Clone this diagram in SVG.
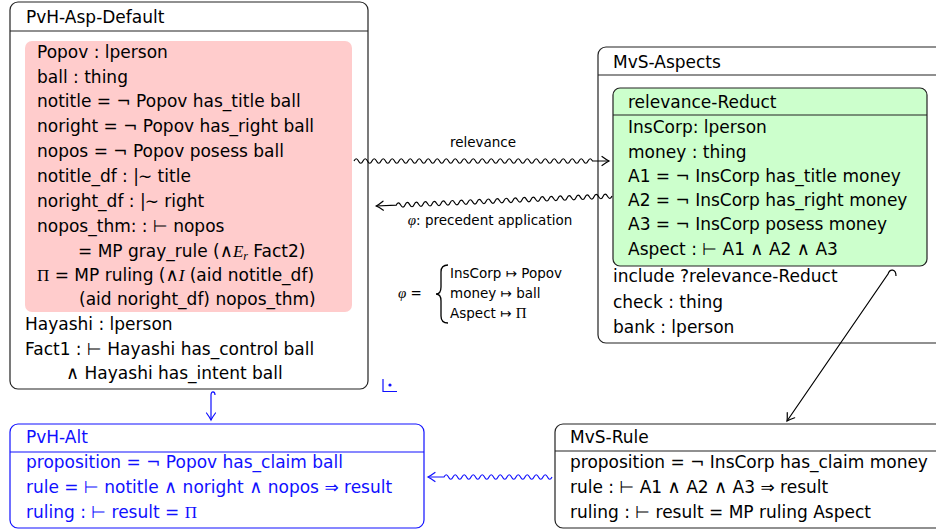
<svg xmlns="http://www.w3.org/2000/svg" width="936" height="529" viewBox="0 0 936 529">
<style>
.t{font-family:"DejaVu Sans",sans-serif;font-size:17px;fill:#000}
.bl{fill:#1010ff}
.m{font-family:"Liberation Serif",serif;font-style:italic}
.r{font-family:"Liberation Serif",serif}
.a{font-family:"Liberation Serif","DejaVu Serif",serif;font-size:18px}
.s{font-size:13.5px}
.box{fill:#fff;stroke:#222;stroke-width:1.2}
.sep{stroke:#222;stroke-width:1.2}
.w{fill:none;stroke:#000;stroke-width:1.2}
.wb{fill:none;stroke:#1010ff;stroke-width:1.2}
</style>
<defs>
<marker id="ah" viewBox="-8 -6 10 12" markerWidth="10" markerHeight="12" refX="0" refY="0" orient="auto" markerUnits="userSpaceOnUse" overflow="visible">
<path d="M-7 -4.5 Q-2.5 -1.2 0 0 Q-2.5 1.2 -7 4.5" fill="none" stroke="#000" stroke-width="1.2" stroke-linecap="round"/>
</marker>
<marker id="ahb" viewBox="-8 -6 10 12" markerWidth="10" markerHeight="12" refX="0" refY="0" orient="auto" markerUnits="userSpaceOnUse" overflow="visible">
<path d="M-7 -4.5 Q-2.5 -1.2 0 0 Q-2.5 1.2 -7 4.5" fill="none" stroke="#1010ff" stroke-width="1.2" stroke-linecap="round"/>
</marker>
</defs>

<g id="pvh-asp-default">
<rect class="box" x="10" y="2" width="358" height="387" rx="8"/>
<line class="sep" x1="10" y1="31" x2="368" y2="31"/>
<text class="t" x="26" y="23">PvH-Asp-Default</text>
<rect x="25" y="41" width="327" height="271" rx="7" fill="#ffcccc"/>
<text class="t" x="37" y="58">Popov : lperson</text>
<text class="t" x="37" y="83">ball : thing</text>
<text class="t" x="37" y="107">notitle = ¬ Popov has_title ball</text>
<text class="t" x="37" y="132">noright = ¬ Popov has_right ball</text>
<text class="t" x="37" y="157">nopos = ¬ Popov posess ball</text>
<text class="t" x="37" y="182">notitle_df : |<tspan dx="-1">∼</tspan> title</text>
<text class="t" x="37" y="207">noright_df : |<tspan dx="-1">∼</tspan> right</text>
<text class="t" x="37" y="232">nopos_thm: : ⊢ nopos</text>
<text class="t" x="78" y="257">= MP gray_rule (<tspan class="a">∧</tspan><tspan class="m">E</tspan><tspan class="m" font-size="12" dy="3">r</tspan><tspan dy="-3"> Fact2)</tspan></text>
<text class="t" x="37" y="281"><tspan class="r">Π</tspan> = MP ruling (<tspan class="a">∧</tspan><tspan class="m">I</tspan> (aid notitle_df)</text>
<text class="t" x="79" y="305">(aid noright_df) nopos_thm)</text>
<text class="t" x="25" y="330">Hayashi : lperson</text>
<text class="t" x="25" y="355">Fact1 : ⊢ Hayashi has_control ball</text>
<text class="t" x="66" y="379"><tspan class="a">∧</tspan> Hayashi has_intent ball</text>
</g>

<g id="mvs-aspects">
<rect class="box" x="598" y="47" width="350" height="296" rx="8"/>
<line class="sep" x1="598" y1="75" x2="936" y2="75"/>
<text class="t" x="613" y="68">MvS-Aspects</text>
<g id="relevance-reduct">
<rect x="613" y="88" width="314" height="178" rx="7" fill="#ccffcc" stroke="#222" stroke-width="1.2"/>
<line class="sep" x1="613" y1="115" x2="927" y2="115"/>
<text class="t" x="628" y="108">relevance-Reduct</text>
<text class="t" x="628" y="133">InsCorp: lperson</text>
<text class="t" x="628" y="158">money : thing</text>
<text class="t" x="628" y="182">A1 = ¬ InsCorp has_title money</text>
<text class="t" x="628" y="206">A2 = ¬ InsCorp has_right money</text>
<text class="t" x="628" y="230">A3 = ¬ InsCorp posess money</text>
<text class="t" x="628" y="255">Aspect : ⊢ A1 <tspan class="a">∧</tspan> A2 <tspan class="a">∧</tspan> A3</text>
</g>
<text class="t" x="613" y="282">include ?relevance-Reduct</text>
<text class="t" x="613" y="308">check : thing</text>
<text class="t" x="613" y="333">bank : lperson</text>
</g>

<g id="mvs-rule">
<rect class="box" x="555" y="424" width="393" height="104" rx="8"/>
<line class="sep" x1="555" y1="451" x2="936" y2="451"/>
<text class="t" x="570" y="443">MvS-Rule</text>
<text class="t" x="570" y="468">proposition = ¬ InsCorp has_claim money</text>
<text class="t" x="570" y="493">rule : ⊢ A1 <tspan class="a">∧</tspan> A2 <tspan class="a">∧</tspan> A3 ⇒ result</text>
<text class="t" x="570" y="518">ruling : ⊢ result = MP ruling Aspect</text>
</g>

<g id="pvh-alt">
<rect x="10" y="424" width="414" height="104" rx="8" fill="#fff" stroke="#1010ff" stroke-width="1.2"/>
<line x1="10" y1="452" x2="424" y2="452" stroke="#1010ff" stroke-width="1.2"/>
<text class="t bl" x="26" y="443">PvH-Alt</text>
<text class="t bl" x="26" y="468">proposition = ¬ Popov has_claim ball</text>
<text class="t bl" x="26" y="493">rule = ⊢ notitle <tspan class="a">∧</tspan> noright <tspan class="a">∧</tspan> nopos ⇒ result</text>
<text class="t bl" x="26" y="518">ruling : ⊢ result = <tspan class="r">Π</tspan></text>
</g>

<g id="connectors">
<path class="w" marker-end="url(#ah)" d="M354 161 q2.25 -4.5 4.5 0 t4.5 0 t4.5 0 t4.5 0 t4.5 0 t4.5 0 t4.5 0 t4.5 0 t4.5 0 t4.5 0 t4.5 0 t4.5 0 t4.5 0 t4.5 0 t4.5 0 t4.5 0 t4.5 0 t4.5 0 t4.5 0 t4.5 0 t4.5 0 t4.5 0 t4.5 0 t4.5 0 t4.5 0 t4.5 0 t4.5 0 t4.5 0 t4.5 0 t4.5 0 t4.5 0 t4.5 0 t4.5 0 t4.5 0 t4.5 0 t4.5 0 t4.5 0 t4.5 0 t4.5 0 t4.5 0 t4.5 0 t4.5 0 t4.5 0 t4.5 0 t4.5 0 t4.5 0 t4.5 0 t4.5 0 t4.5 0 t4.5 0 t4.5 0 t4.5 0 t4.5 0 L609 161"/>
<text class="t s" x="483" y="147" text-anchor="middle">relevance</text>
<g transform="translate(612,196) rotate(177.57)">
<path class="w" marker-end="url(#ah)" d="M0 0 q2.25 -4.5 4.5 0 t4.5 0 t4.5 0 t4.5 0 t4.5 0 t4.5 0 t4.5 0 t4.5 0 t4.5 0 t4.5 0 t4.5 0 t4.5 0 t4.5 0 t4.5 0 t4.5 0 t4.5 0 t4.5 0 t4.5 0 t4.5 0 t4.5 0 t4.5 0 t4.5 0 t4.5 0 t4.5 0 t4.5 0 t4.5 0 t4.5 0 t4.5 0 t4.5 0 t4.5 0 t4.5 0 t4.5 0 t4.5 0 t4.5 0 t4.5 0 t4.5 0 t4.5 0 t4.5 0 t4.5 0 t4.5 0 t4.5 0 t4.5 0 t4.5 0 t4.5 0 t4.5 0 t4.5 0 t4.5 0 t4.5 0 L236 0"/>
</g>
<text class="t s" x="490" y="225" text-anchor="middle"><tspan class="m" font-size="15">φ</tspan>: precedent application</text>
<g id="phi-map">
<text class="t s" x="398" y="298"><tspan class="m" font-size="15">φ</tspan> =</text>
<path d="M448 265 Q441 265 441 272 L441 287 Q441 294 436 294 Q441 294 441 301 L441 316 Q441 323 448 323" fill="none" stroke="#000" stroke-width="1.3"/>
<text class="t s" x="450" y="278">InsCorp ↦ Popov</text>
<text class="t s" x="450" y="298">money ↦ ball</text>
<text class="t s" x="450" y="318">Aspect ↦ <tspan class="r" font-size="15">Π</tspan></text>
</g>
<path class="w" marker-end="url(#ah)" d="M896 276 C896 269 890 268 888 274 L787 421"/>
<path class="wb" marker-end="url(#ahb)" d="M215 395 C215 391 211 390.5 211 395 L211 420"/>
<g transform="translate(552,477) rotate(180)">
<path class="wb" marker-end="url(#ahb)" d="M0 0 q2.25 -4.5 4.5 0 t4.5 0 t4.5 0 t4.5 0 t4.5 0 t4.5 0 t4.5 0 t4.5 0 t4.5 0 t4.5 0 t4.5 0 t4.5 0 t4.5 0 t4.5 0 t4.5 0 t4.5 0 t4.5 0 t4.5 0 t4.5 0 t4.5 0 t4.5 0 t4.5 0 t4.5 0 t4.5 0 L124 0"/>
</g>
<path d="M383 379 L383 391.5 L397 391.5" fill="none" stroke="#1010ff" stroke-width="1.2"/>
<circle cx="390" cy="385" r="1.6" fill="#1010ff"/>
</g>
</svg>
